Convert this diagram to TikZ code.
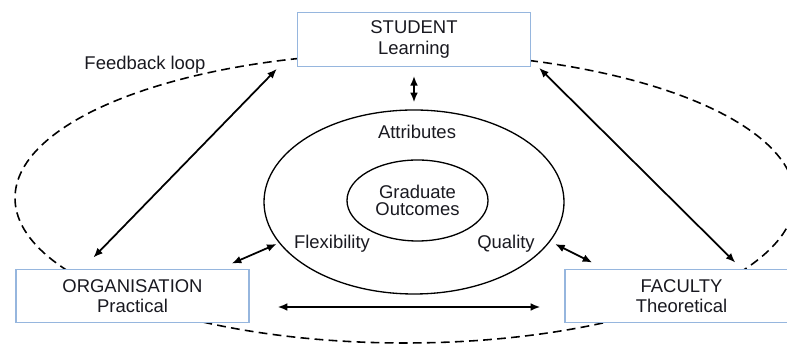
\documentclass[tikz,border=0pt]{standalone}
\usepackage{fontspec}
\setmainfont{Liberation Sans}
\usepackage{tikz}
\usetikzlibrary{arrows.meta,shapes.geometric,positioning}
\usepackage{xcolor}
\definecolor{boxedge}{RGB}{150,182,222}
\definecolor{inktext}{RGB}{25,25,32}

\begin{document}
\begin{tikzpicture}[
    font=\fontsize{10.5}{11.5}\selectfont,
    text=inktext,
    rolebox/.style={draw=boxedge,line width=0.75pt,fill=white,minimum width=4.66cm,minimum height=1.07cm,align=center},
    ring/.style={draw,ellipse,line width=0.75pt,inner sep=0pt},
    tag/.style={inner sep=0pt},
    link/.style={{Latex[length=5.5pt,width=4.4pt]}-{Latex[length=5.5pt,width=4.4pt]},line width=1pt}
  ]
    \useasboundingbox (0,0) rectangle (15.74,6.94);
    % feedback loop round the whole model
    \draw[dash pattern=on 5pt off 3pt,line width=0.9pt] (8.10,2.98) ellipse [x radius=7.8,y radius=2.9];
    \node[tag] (feedback) at (2.90,5.64) {Feedback loop};

    % attributes and outcomes in the middle
    \node[ring,minimum width=6cm,minimum height=3.68cm] (attr) at (8.28,2.90) {};
    \node[ring,minimum width=2.82cm,minimum height=1.62cm,align=center,font=\fontsize{10.5}{9.5}\selectfont] (outcomes) at (8.35,2.93) {Graduate\\Outcomes};
    \node[tag] (attrib) at (8.34,4.30) {Attributes};
    \node[tag] (flex) at (6.64,2.06) {Flexibility};
    \node[tag] (quality) at (10.12,2.06) {Quality};

    % the three partners
    \node[rolebox] (student) at (8.28,6.15) {STUDENT\\Learning};
    \node[rolebox] (organisation) at (2.65,1.02) {ORGANISATION\\Practical};
    \node[rolebox] (faculty) at (13.63,1.02) {FACULTY\\Theoretical};

    \draw[link] ([yshift=-0.18cm]student.south) -- ([yshift=0.14cm]attr.north);
    \draw[link] ([shift={(-0.4,-0.04)}]student.south west) -- ([shift={(1.56,0.22)}]organisation.north west);
    \draw[link] ([shift={(0.16,-0.02)}]student.south east) -- ([shift={(3.42,0.12)}]faculty.north west);
    \draw[link] ([xshift=-0.34cm]flex.west) -- ([shift={(-0.36,0.10)}]organisation.north east);
    \draw[link] ([xshift=0.40cm]quality.east) -- ([shift={(0.56,0.12)}]faculty.north west);
    \draw[link] ([shift={(0.56,-0.22)}]organisation.east) -- ([shift={(-0.48,-0.22)}]faculty.west);
  \end{tikzpicture}
\end{document}
